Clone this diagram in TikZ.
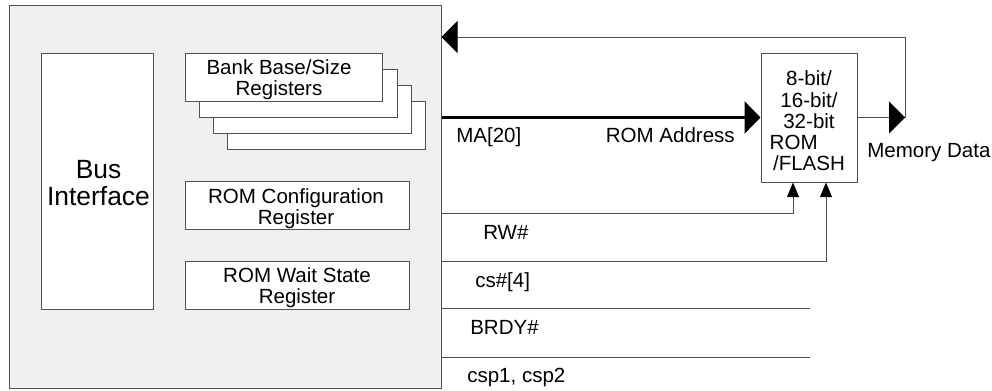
\documentclass[tikz,border=0pt]{standalone}
\usepackage{fontspec}
\setmainfont{Liberation Sans}
\usetikzlibrary{arrows.meta,fit}
\definecolor{panel}{HTML}{F0F0F0}
\definecolor{edge}{HTML}{505050}
\begin{document}
\begin{tikzpicture}[x=0.75pt,y=-0.75pt,
  box/.style={draw=edge, line width=0.75pt, fill=white, inner sep=0pt},
  txt/.style={font=\fontsize{15.4}{15.75}\selectfont, inner sep=0pt, align=center},
  lbl/.style={font=\fontsize{15.4}{15.75}\selectfont, inner sep=0pt},
  wire/.style={draw=edge, line width=0.75pt},
  bigtip/.style={-{Triangle[length=12pt,width=24pt,color=black]}},
  smalltip/.style={-{Triangle[length=11pt,width=9pt,color=black]}}]
\useasboundingbox (0,0) rectangle (992,390);
% outer block
\node[fit={(9,5) (441,388)}, draw=edge, fill=panel, inner sep=0pt, line width=0.75pt] (outer) {};
% bus interface
\node[box, fit={(41,53) (153,309)}] (bus) {};
\node[txt, font=\fontsize{19.8}{20.8}\selectfont] (bustext) at (98.5,183) {Bus\\Interface};
% bank registers stack
\node[box, fit={(227,101) (425,149)}] (bank4) {};
\node[box, fit={(213,85) (411,133)}] (bank3) {};
\node[box, fit={(199,69) (397,117)}] (bank2) {};
\node[box, fit={(185,53) (382,101)}] (bank1) {};
\node[txt] (banktext) at (279,80) {Bank Base/Size\\Registers};
% config and wait state registers
\node[box, fit={(185,181) (409,229)}] (cfg) {};
\node[txt] (cfgtext) at (296,208.5) {ROM Configuration\\Register};
\node[box, fit={(185,261) (409,309)}] (wait) {};
\node[txt] (waittext) at (297,288) {ROM Wait State\\Register};
% ROM / FLASH
\node[box, fit={(761,53) (857,182)}] (rom) {};
\node[txt, font=\fontsize{15.4}{15.9}\selectfont] (romtext) at (809,121) {8-bit/\\16-bit/\\32-bit\\ROM\rule{23pt}{0pt}\\/FLASH};
% coordinates
\coordinate (fbtop) at (905,37);
\coordinate (mdcorner) at (905,117.5);
\coordinate (rwc) at (793,213);
\coordinate (csc) at (826,261);
\coordinate (brdyend) at (810,308);
\coordinate (cspend) at (810,357);
% connectors
\draw[wire, bigtip] (rom.east) -- (mdcorner);
\draw[wire, bigtip] (mdcorner) -- (fbtop) -- (outer.east |- fbtop);
\draw[line width=2.25pt, bigtip] (outer.east |- rom.west) -- (rom.west);
\draw[wire, smalltip] (outer.east |- rwc) -| (rwc |- rom.south);
\draw[wire, smalltip] (outer.east |- csc) -| (csc |- rom.south);
\draw[wire] (outer.east |- brdyend) -- (brdyend);
\draw[wire] (outer.east |- cspend) -- (cspend);
% labels
\node[lbl, anchor=base west] (ma) at (456,142.5) {MA[20]};
\node[lbl, anchor=base east] (ra) at (735,142.5) {ROM Address};
\node[lbl, anchor=base west] (md) at (867,157.5) {Memory Data};
\node[lbl, anchor=base west] (rw) at (483,239) {RW\#};
\node[lbl, anchor=base west] (cs) at (475,287) {cs\#[4]};
\node[lbl, anchor=base west] (brdy) at (470,334) {BRDY\#};
\node[lbl, anchor=base west] (csp) at (467,382) {csp1, csp2};
\end{tikzpicture}
\end{document}
